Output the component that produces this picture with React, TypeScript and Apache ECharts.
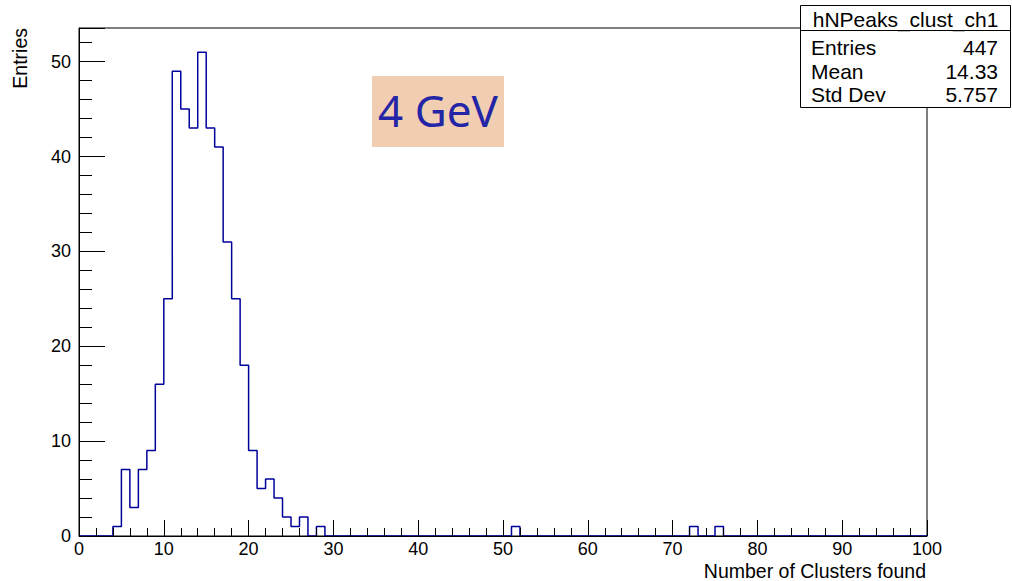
import React, { useEffect, useRef } from "react";
import * as echarts from "echarts";

// Histogram: 100 bins of width 1 from 0 to 100
const binLow = 0;
const binHigh = 100;
const counts: number[] = [
  0, 0, 0, 0, 1, 7, 3, 7, 9, 16,
  25, 49, 45, 43, 51, 43, 41, 31, 25, 18,
  9, 5, 6, 4, 2, 1, 2, 0, 1, 0,
  0, 0, 0, 0, 0, 0, 0, 0, 0, 0,
  0, 0, 0, 0, 0, 0, 0, 0, 0, 0,
  0, 1, 0, 0, 0, 0, 0, 0, 0, 0,
  0, 0, 0, 0, 0, 0, 0, 0, 0, 0,
  0, 0, 1, 0, 0, 1, 0, 0, 0, 0,
  0, 0, 0, 0, 0, 0, 0, 0, 0, 0,
  0, 0, 0, 0, 0, 0, 0, 0, 0, 0,
];
const yMax = 53.55;
const xInterval = 10;
const yInterval = 10;

const histName = "hNPeaks_clust_ch1";
const statLabels = ["Entries", "Mean", "Std Dev"];
const statValues = ["447", "14.33", "5.757"];
const xTitle = "Number of Clusters found";
const yTitle = "Entries";
const annotation = "4 GeV";

const FONT = "'Liberation Sans', Arial, Helvetica, sans-serif";

export default function App() {
  const ref = useRef<HTMLDivElement>(null);

  useEffect(() => {
    const chart = echarts.init(ref.current!, null, { renderer: "svg" });
    const binWidth = (binHigh - binLow) / counts.length;
    const pts: number[][] = counts.map((c, i) => [binLow + i * binWidth, c]);
    pts.push([binHigh, counts[counts.length - 1]]);

    const statRowsY = [47.5, 71, 94.5];
    const statGraphics: any[] = [];
    statLabels.forEach((lab, i) => {
      statGraphics.push({
        type: "text",
        x: 811,
        y: statRowsY[i],
        z: 102,
        style: { text: lab, fill: "#000", fontSize: 21, fontFamily: FONT, align: "left", verticalAlign: "middle" },
      });
      statGraphics.push({
        type: "text",
        x: 998,
        y: statRowsY[i],
        z: 102,
        style: { text: statValues[i], fill: "#000", fontSize: 21, fontFamily: FONT, align: "right", verticalAlign: "middle" },
      });
    });

    const option: any = {
      animation: false,
      backgroundColor: "#fff",
      grid: {
        left: 79,
        top: 28,
        width: 848,
        height: 508,
        show: true,
        borderColor: "#000",
        borderWidth: 1,
        backgroundColor: "transparent",
      },
      xAxis: {
        type: "value",
        min: binLow,
        max: binHigh,
        interval: xInterval,
        z: 5,
        axisLine: { show: true, onZero: false, lineStyle: { color: "#000", width: 1 } },
        axisTick: { show: true, inside: true, length: 16, lineStyle: { color: "#000", width: 1 } },
        minorTick: { show: true, splitNumber: 5, length: 8, lineStyle: { color: "#000", width: 1 } },
        axisLabel: { color: "#000", fontSize: 18, fontFamily: FONT, margin: 4 },
        splitLine: { show: false },
        minorSplitLine: { show: false },
      },
      yAxis: [
        {
          type: "value",
          position: "left",
          min: 0,
          max: yMax,
          interval: yInterval,
          z: 5,
          axisLine: { show: true, onZero: false, lineStyle: { color: "#000", width: 1 } },
          axisTick: { show: true, inside: true, length: 26, lineStyle: { color: "#000", width: 1 } },
          axisLabel: {
            color: "#000",
            fontSize: 18,
            fontFamily: FONT,
            margin: 8,
            formatter: (v: number) => (Math.abs(v % yInterval) < 1e-9 ? String(v) : ""),
          },
          splitLine: { show: false },
        },
        {
          type: "value",
          position: "left",
          offset: 0,
          min: 0,
          max: yMax,
          interval: 2,
          z: 5,
          axisLine: { show: false },
          axisTick: { show: true, inside: true, length: 13, lineStyle: { color: "#000", width: 1 } },
          axisLabel: { show: false },
          splitLine: { show: false },
        },
      ],
      series: [
        {
          type: "line",
          data: pts,
          step: "end",
          symbol: "none",
          showSymbol: false,
          silent: true,
          z: 2,
          lineStyle: { color: "#00009a", width: 1.5 },
        },
      ],
      graphic: [
        {
          type: "text",
          x: 20,
          y: 28,
          rotation: Math.PI / 2,
          z: 100,
          style: { text: yTitle, fill: "#000", fontSize: 19.5, fontFamily: FONT, align: "right", verticalAlign: "middle" },
        },
        {
          type: "text",
          x: 926,
          y: 571,
          z: 100,
          style: { text: xTitle, fill: "#000", fontSize: 19.5, fontFamily: FONT, align: "right", verticalAlign: "middle" },
        },
        {
          type: "rect",
          shape: { x: 372, y: 76, width: 132, height: 71 },
          z: 100,
          style: { fill: "#F1CEB1", stroke: "none" },
        },
        {
          type: "text",
          x: 438,
          y: 110,
          z: 101,
          style: { text: annotation, fill: "#2424A6", fontSize: 44, fontFamily: "'Noto Sans', 'Open Sans', sans-serif", align: "center", verticalAlign: "middle" },
        },
        {
          type: "rect",
          shape: { x: 800.5, y: 5.5, width: 210, height: 102 },
          z: 100,
          style: { fill: "#fff", stroke: "#000", lineWidth: 1 },
        },
        {
          type: "line",
          shape: { x1: 800.5, y1: 30.5, x2: 1010.5, y2: 30.5 },
          z: 101,
          style: { stroke: "#000", lineWidth: 1 },
        },
        {
          type: "text",
          x: 905.5,
          y: 19,
          z: 102,
          style: { text: histName, fill: "#000", fontSize: 21, fontFamily: FONT, align: "center", verticalAlign: "middle" },
        },
        ...statGraphics,
      ],
    };
    chart.setOption(option);
    return () => chart.dispose();
  }, []);

  return (
    <div
      ref={ref}
      style={{ position: "absolute", left: 0, top: 0, width: 1012, height: 581, background: "#fff" }}
    />
  );
}
